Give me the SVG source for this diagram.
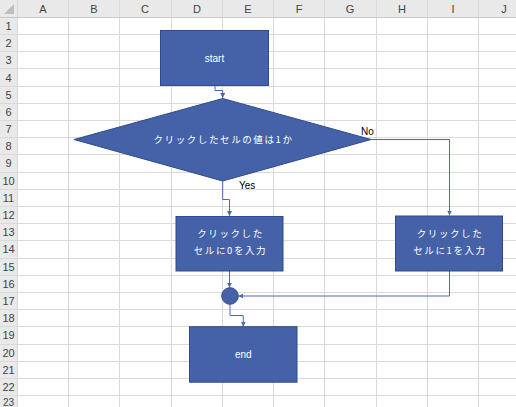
<svg xmlns="http://www.w3.org/2000/svg" width="516" height="407" viewBox="0 0 516 407">
<style>
.hdr{fill:#E9E9E9}
.grid{stroke:#DADADA;stroke-width:1}
.ht{font-family:"Liberation Sans",Arial,sans-serif;font-size:11px;fill:#444;text-anchor:middle}
.shape{fill:#4562A9;stroke:#2F4B8C;stroke-width:1}
.lbl{font-family:"Noto Sans CJK JP","Liberation Sans",sans-serif;font-size:9.5px;fill:#FFFFFF;text-anchor:middle;letter-spacing:1.6px}
.en{font-family:"Liberation Sans",Arial,sans-serif;font-size:10px;fill:#FFFFFF;text-anchor:middle}
.cl{fill:none;stroke:#4A6AB6;stroke-width:1}
.yn{font-family:"Liberation Sans",Arial,sans-serif;font-size:10px;fill:#000}
</style>
<defs>
<marker id="ah" viewBox="0 0 10 10" refX="10" refY="5" markerWidth="5" markerHeight="5" orient="auto" markerUnits="userSpaceOnUse">
<path d="M0,0 L10,5 L0,10 z" fill="#4A6AB6"/>
</marker>
</defs>
<rect x="0" y="0" width="516" height="407" fill="#FFFFFF"/>
<g id="sheet">
<rect class="hdr" x="0" y="0" width="516" height="17"/>
<rect class="hdr" x="0" y="0" width="17" height="407"/>
<path d="M14,4 L14,14 L4,14 z" fill="#BDBDBD"/>
<g class="grid">
<line x1="17.5" y1="0" x2="17.5" y2="407"/>
<line x1="68.5" y1="0" x2="68.5" y2="407"/>
<line x1="119.5" y1="0" x2="119.5" y2="407"/>
<line x1="171.5" y1="0" x2="171.5" y2="407"/>
<line x1="222.5" y1="0" x2="222.5" y2="407"/>
<line x1="273.5" y1="0" x2="273.5" y2="407"/>
<line x1="324.5" y1="0" x2="324.5" y2="407"/>
<line x1="376.5" y1="0" x2="376.5" y2="407"/>
<line x1="427.5" y1="0" x2="427.5" y2="407"/>
<line x1="478.5" y1="0" x2="478.5" y2="407"/>
<line x1="0" y1="17.5" x2="516" y2="17.5" stroke="#C8C8C8"/>
<line x1="0" y1="34.5" x2="516" y2="34.5"/>
<line x1="0" y1="51.5" x2="516" y2="51.5"/>
<line x1="0" y1="68.5" x2="516" y2="68.5"/>
<line x1="0" y1="86.5" x2="516" y2="86.5"/>
<line x1="0" y1="103.5" x2="516" y2="103.5"/>
<line x1="0" y1="120.5" x2="516" y2="120.5"/>
<line x1="0" y1="137.5" x2="516" y2="137.5"/>
<line x1="0" y1="154.5" x2="516" y2="154.5"/>
<line x1="0" y1="172.5" x2="516" y2="172.5"/>
<line x1="0" y1="189.5" x2="516" y2="189.5"/>
<line x1="0" y1="206.5" x2="516" y2="206.5"/>
<line x1="0" y1="223.5" x2="516" y2="223.5"/>
<line x1="0" y1="240.5" x2="516" y2="240.5"/>
<line x1="0" y1="258.5" x2="516" y2="258.5"/>
<line x1="0" y1="275.5" x2="516" y2="275.5"/>
<line x1="0" y1="292.5" x2="516" y2="292.5"/>
<line x1="0" y1="309.5" x2="516" y2="309.5"/>
<line x1="0" y1="326.5" x2="516" y2="326.5"/>
<line x1="0" y1="344.5" x2="516" y2="344.5"/>
<line x1="0" y1="361.5" x2="516" y2="361.5"/>
<line x1="0" y1="378.5" x2="516" y2="378.5"/>
<line x1="0" y1="395.5" x2="516" y2="395.5"/>
</g>
<g class="ht">
<text x="43" y="13">A</text>
<text x="94" y="13">B</text>
<text x="145" y="13">C</text>
<text x="197" y="13">D</text>
<text x="248" y="13">E</text>
<text x="299" y="13">F</text>
<text x="350" y="13">G</text>
<text x="402" y="13">H</text>
<text x="453" y="13">I</text>
<text x="504" y="13">J</text>
<text x="8.5" y="30">1</text>
<text x="8.5" y="47">2</text>
<text x="8.5" y="64">3</text>
<text x="8.5" y="82">4</text>
<text x="8.5" y="99">5</text>
<text x="8.5" y="116">6</text>
<text x="8.5" y="133">7</text>
<text x="8.5" y="150">8</text>
<text x="8.5" y="167">9</text>
<text x="8.5" y="185">10</text>
<text x="8.5" y="202">11</text>
<text x="8.5" y="219">12</text>
<text x="8.5" y="236">13</text>
<text x="8.5" y="253">14</text>
<text x="8.5" y="271">15</text>
<text x="8.5" y="288">16</text>
<text x="8.5" y="305">17</text>
<text x="8.5" y="322">18</text>
<text x="8.5" y="339">19</text>
<text x="8.5" y="357">20</text>
<text x="8.5" y="374">21</text>
<text x="8.5" y="391">22</text>
<text x="8.5" y="406" font-size="10">23</text>
</g>
</g>
<g id="connectors">
<path class="cl" d="M215,86 L215,90.5 L222.7,90.5 L222.7,98" marker-end="url(#ah)"/>
<path class="cl" d="M222.7,181 L222.7,199.5 L229.5,199.5 L229.5,216" marker-end="url(#ah)"/>
<path class="cl" d="M371,139.5 L449.5,139.5 L449.5,215.5" marker-end="url(#ah)"/>
<path class="cl" d="M229.5,271 L229.5,287.7" marker-end="url(#ah)"/>
<path class="cl" d="M449.5,271 L449.5,296 L238.3,296" marker-end="url(#ah)"/>
<path class="cl" d="M230,304.3 L230,315.5 L243.3,315.5 L243.3,326.7" marker-end="url(#ah)"/>
<text class="yn" x="361" y="135">No</text>
<text class="yn" x="239" y="189">Yes</text>
</g>
<g id="start">
<rect class="shape" x="160.5" y="30.5" width="108" height="55"/>
<text class="en" x="214.5" y="61.5">start</text>
</g>
<g id="decision">
<polygon class="shape" points="222.7,98.5 371,139.5 222.7,181 74,139.5"/>
<text class="lbl" x="223.5" y="142.5">クリックしたセルの値は1か</text>
</g>
<g id="set0">
<rect class="shape" x="176" y="216.5" width="107" height="54.5"/>
<text class="lbl" x="230.5" y="237">クリックした</text>
<text class="lbl" x="230.5" y="254">セルに0を入力</text>
</g>
<g id="set1">
<rect class="shape" x="395.5" y="216" width="107" height="55"/>
<text class="lbl" x="450" y="237">クリックした</text>
<text class="lbl" x="450" y="254">セルに1を入力</text>
</g>
<g id="merge">
<circle class="shape" cx="230" cy="296" r="8.3"/>
</g>
<g id="end">
<rect class="shape" x="189.5" y="326.7" width="107.5" height="55.5"/>
<text class="en" x="243.3" y="358">end</text>
</g>
</svg>
